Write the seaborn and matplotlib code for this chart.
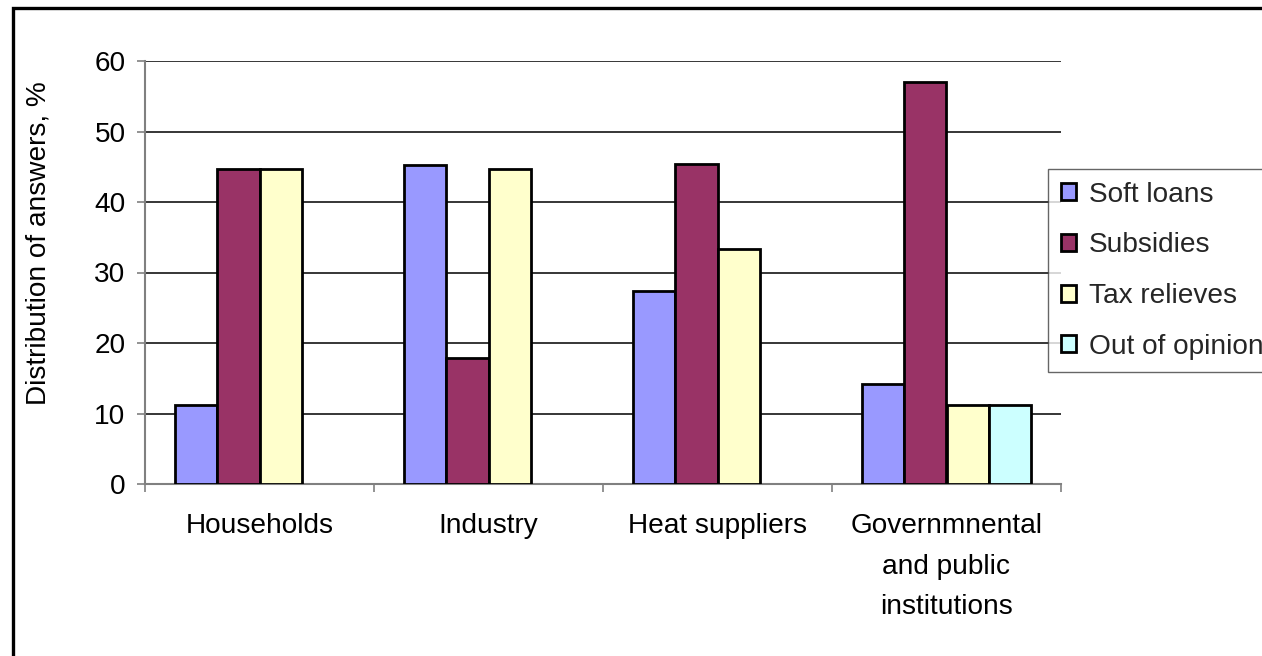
import matplotlib
matplotlib.use("Agg")
import matplotlib.pyplot as plt
from matplotlib.patches import Rectangle
import pandas as pd
import seaborn as sns

# Survey data: preferred support instruments by sector (% of answers)
categories = ["Households", "Industry", "Heat suppliers",
              "Governmnental\nand public\ninstitutions"]
instruments = ["Soft loans", "Subsidies", "Tax relieves", "Out of opinion"]
soft_loans = [11.2, 45.3, 27.4, 14.2]
subsidies = [44.7, 17.9, 45.4, 57.0]
tax_relieves = [44.7, 44.7, 33.3, 11.2]
out_of_opinion = [None, None, None, 11.2]
colors = ["#9999FF", "#993366", "#FFFFCC", "#CCFFFF"]

rows = []
for series, name in zip([soft_loans, subsidies, tax_relieves, out_of_opinion], instruments):
    for cat, val in zip(categories, series):
        if val is not None:
            rows.append({"Sector": cat, "Instrument": name, "Share": val})
df = pd.DataFrame(rows)

sns.set_theme(style="white")
plt.rcParams["font.family"] = ["Liberation Sans", "DejaVu Sans"]
FS = 20.2

fig = plt.figure(figsize=(12.62, 6.56), dpi=100)
ax = fig.add_axes([145 / 1262, 1 - 484 / 656, 916 / 1262, 423 / 656])

sns.barplot(data=df, x="Sector", y="Share", hue="Instrument",
            order=categories, hue_order=instruments, palette=colors,
            width=0.74, gap=0, edgecolor="black", linewidth=2.0,
            saturation=1, errorbar=None, ax=ax, zorder=3)

ax.set_xlim(-0.5, len(categories) - 0.5)
ax.set_ylim(0, 60)
ax.set_yticks(range(0, 61, 10))
ax.yaxis.grid(True, color="black", linewidth=1.1, zorder=0)
ax.set_axisbelow(True)
ax.set_xlabel("")
ax.set_ylabel("Distribution of answers, %", fontsize=FS, color="black", va="center")
ax.yaxis.set_label_coords(-0.116, 0.57)

for side in ("top", "right"):
    ax.spines[side].set_visible(False)
for side in ("left", "bottom"):
    ax.spines[side].set_color("#808080")
    ax.spines[side].set_linewidth(1.5)

ax.tick_params(axis="y", which="major", direction="out", length=6, width=1.2,
               color="#808080", labelsize=FS, labelcolor="black", pad=8, left=True)
ax.tick_params(axis="x", which="major", length=0, labelsize=FS,
               labelcolor="black", pad=21)
ax.set_xticks([i - 0.5 for i in range(len(categories) + 1)], minor=True)
ax.tick_params(axis="x", which="minor", direction="out", length=6, width=1.2,
               color="#808080", bottom=True)
for lbl in ax.get_xticklabels():
    lbl.set_linespacing(1.72)
    lbl.set_va("top")

handles, labels = ax.get_legend_handles_labels()
ax.get_legend().remove()
for h in handles:
    h.set_edgecolor("black")
    h.set_linewidth(2.0)
leg = fig.legend(handles, labels, loc="upper left",
                 bbox_to_anchor=(1048 / 1262, 1 - 169 / 656),
                 fontsize=FS, frameon=True, fancybox=False, borderaxespad=0,
                 handlelength=0.55, handleheight=0.55, handletextpad=0.45,
                 labelspacing=0.88, borderpad=0.45)
leg.get_frame().set_edgecolor("#404040")
leg.get_frame().set_linewidth(1.0)

# Outer frame around the whole chart area
fig.patches.append(Rectangle((13 / 1262, -0.1), 1.2, 1 - 8 / 656 + 0.1,
                             transform=fig.transFigure, fill=False,
                             edgecolor="black", linewidth=2.4, clip_on=False))

fig.savefig("out.png", dpi=100)
